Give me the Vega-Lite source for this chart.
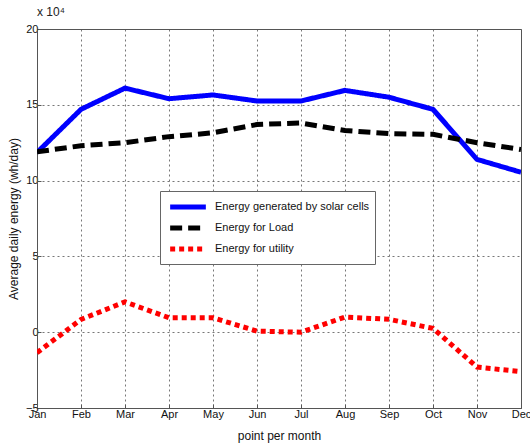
{
  "$schema": "https://vega.github.io/schema/vega-lite/v6.json",
  "width": 484,
  "height": 379,
  "autosize": {"type": "none"},
  "padding": {"left": 37, "top": 29, "right": 9, "bottom": 37},
  "background": "white",
  "title": {"text": "x 10⁴", "anchor": "start", "frame": "group", "offset": 4, "fontSize": 12, "fontWeight": "normal", "font": "Liberation Sans", "color": "#222"},
  "data": {"values": [
    {"month": "Jan", "series": "Energy generated by solar cells", "value": 11.85},
    {"month": "Feb", "series": "Energy generated by solar cells", "value": 14.7},
    {"month": "Mar", "series": "Energy generated by solar cells", "value": 16.1},
    {"month": "Apr", "series": "Energy generated by solar cells", "value": 15.4},
    {"month": "May", "series": "Energy generated by solar cells", "value": 15.65},
    {"month": "Jun", "series": "Energy generated by solar cells", "value": 15.25},
    {"month": "Jul", "series": "Energy generated by solar cells", "value": 15.25},
    {"month": "Aug", "series": "Energy generated by solar cells", "value": 15.95},
    {"month": "Sep", "series": "Energy generated by solar cells", "value": 15.5},
    {"month": "Oct", "series": "Energy generated by solar cells", "value": 14.7},
    {"month": "Nov", "series": "Energy generated by solar cells", "value": 11.4},
    {"month": "Dec", "series": "Energy generated by solar cells", "value": 10.55},
    {"month": "Jan", "series": "Energy for Load", "value": 11.9},
    {"month": "Feb", "series": "Energy for Load", "value": 12.3},
    {"month": "Mar", "series": "Energy for Load", "value": 12.5},
    {"month": "Apr", "series": "Energy for Load", "value": 12.9},
    {"month": "May", "series": "Energy for Load", "value": 13.15},
    {"month": "Jun", "series": "Energy for Load", "value": 13.7},
    {"month": "Jul", "series": "Energy for Load", "value": 13.8},
    {"month": "Aug", "series": "Energy for Load", "value": 13.3},
    {"month": "Sep", "series": "Energy for Load", "value": 13.1},
    {"month": "Oct", "series": "Energy for Load", "value": 13.05},
    {"month": "Nov", "series": "Energy for Load", "value": 12.5},
    {"month": "Dec", "series": "Energy for Load", "value": 12.05},
    {"month": "Jan", "series": "Energy for utility", "value": -1.35},
    {"month": "Feb", "series": "Energy for utility", "value": 0.84},
    {"month": "Mar", "series": "Energy for utility", "value": 2.0},
    {"month": "Apr", "series": "Energy for utility", "value": 0.95},
    {"month": "May", "series": "Energy for utility", "value": 0.95},
    {"month": "Jun", "series": "Energy for utility", "value": 0.07},
    {"month": "Jul", "series": "Energy for utility", "value": 0.0},
    {"month": "Aug", "series": "Energy for utility", "value": 1.0},
    {"month": "Sep", "series": "Energy for utility", "value": 0.85},
    {"month": "Oct", "series": "Energy for utility", "value": 0.25},
    {"month": "Nov", "series": "Energy for utility", "value": -2.3},
    {"month": "Dec", "series": "Energy for utility", "value": -2.6}
  ]},
  "mark": {"type": "line", "strokeWidth": 5, "clip": true},
  "encoding": {
    "x": {
      "field": "month", "type": "ordinal",
      "sort": ["Jan","Feb","Mar","Apr","May","Jun","Jul","Aug","Sep","Oct","Nov","Dec"],
      "scale": {"type": "point", "padding": 0},
      "axis": {"title": "point per month", "labelAngle": 0, "grid": true, "gridDash": [2, 3], "gridColor": "#555", "gridOpacity": 0.8, "tickSize": -4, "tickColor": "#555", "domainColor": "#555", "labelPadding": 4, "titlePadding": 11}
    },
    "y": {
      "field": "value", "type": "quantitative",
      "scale": {"domain": [-5, 20], "nice": false, "zero": false},
      "axis": {"title": "Average daily energy (wh/day)", "values": [-5, 0, 5, 10, 15, 20], "grid": true, "gridDash": [2, 3], "gridColor": "#555", "gridOpacity": 0.8, "tickSize": -4, "tickColor": "#555", "domainColor": "#555", "labelPadding": 3, "titlePadding": 5}
    },
    "color": {
      "field": "series", "type": "nominal",
      "scale": {"domain": ["Energy generated by solar cells", "Energy for Load", "Energy for utility"], "range": ["#0000ff", "#000000", "#ff0000"]},
      "legend": {"title": null, "orient": "none", "legendX": 123, "legendY": 162}
    },
    "strokeDash": {
      "field": "series", "type": "nominal",
      "scale": {"domain": ["Energy generated by solar cells", "Energy for Load", "Energy for utility"], "range": [[1, 0], [12, 6], [5, 4]]},
      "legend": {"title": null, "orient": "none", "legendX": 123, "legendY": 162}
    }
  },
  "config": {
    "font": "Liberation Sans",
    "view": {"stroke": "#555", "strokeWidth": 1},
    "axis": {"labelFont": "Liberation Sans", "labelFontSize": 11, "labelColor": "#111", "titleFont": "Liberation Sans", "titleFontSize": 12, "titleFontWeight": "normal", "titleColor": "#111"},
    "legend": {"fillColor": "white", "strokeColor": "#666", "padding": 5, "symbolType": "M-2.1,0H2.1", "symbolStrokeWidth": 5, "symbolSize": 289, "symbolOffset": 12, "labelFont": "Liberation Sans", "labelFontSize": 11, "labelColor": "#111", "rowPadding": 0, "labelOffset": 16, "labelLimit": 300}
  }
}
